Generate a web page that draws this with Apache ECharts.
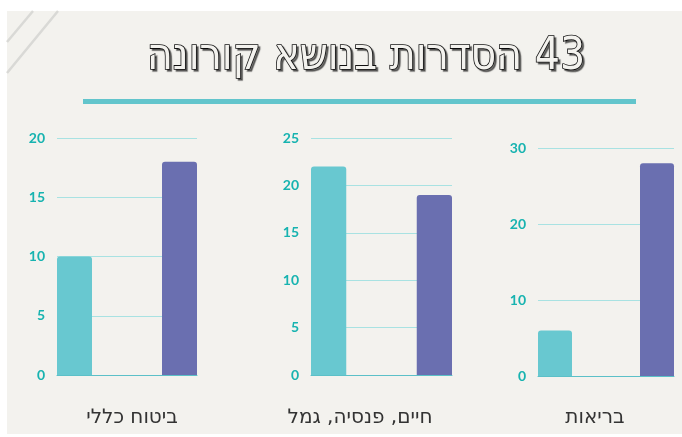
<!DOCTYPE html>
<html>
<head>
<meta charset="utf-8">
<script src="https://cdn.jsdelivr.net/npm/echarts@6/dist/echarts.min.js"></script>
<style>
  html, body { margin: 0; padding: 0; background: #ffffff; }
  #main { width: 682px; height: 437px; }
</style>
</head>
<body>
<div id="main"></div>
<script>
// נתונים
var titleText = '43 הסדרות בנושא קורונה'
var groupNames = ['ביטוח כללי', 'חיים, פנסיה, גמל', 'בריאות']
var slots = ['a', 'b', 'c', 'd']
var tealValues = [10, 22, 6]
var purpleValues = [18, 19, 28]
var axisMax = [20, 25, 30]
var axisStep = [5, 5, 10]

var grids = [
  { left: 57, width: 140, top: 138, bottom: 62 },
  { left: 311, width: 141, top: 138, bottom: 62 },
  { left: 538, width: 136, top: 148, bottom: 61 }
]
var labelPos = [127, 355, 590]

var tealColor = '#68c8d0'
var purpleColor = '#6a6fb0'

var chart = echarts.init(document.getElementById('main'))

var xAxes = []
var yAxes = []
var series = []
var titles = [{
  // RLE ... PDF so the number sits on the right like in RTL text
  text: '\u202B' + titleText + '\u202C',
  left: 361,
  top: 31,
  textAlign: 'center',
  textStyle: {
    fontFamily: 'DejaVu Sans Condensed',
    fontSize: 44,
    fontWeight: 'normal',
    color: '#f3f2ee',
    textBorderColor: '#111111',
    textBorderWidth: 1.6,
    textShadowColor: 'rgba(0,0,0,0.5)',
    textShadowOffsetX: 2,
    textShadowOffsetY: 2,
    textShadowBlur: 1
  }
}]

for (var i = 0; i < 3; i++) {
  xAxes.push({
    type: 'category',
    gridIndex: i,
    data: slots,
    axisLine: { lineStyle: { color: '#5bc0c8', width: 1 } },
    axisTick: { show: false },
    axisLabel: { show: false }
  })
  yAxes.push({
    type: 'value',
    gridIndex: i,
    min: 0,
    max: axisMax[i],
    interval: axisStep[i],
    axisLine: { show: false },
    axisTick: { show: false },
    splitLine: { lineStyle: { color: '#a8e2e2', width: 1 } },
    axisLabel: {
      margin: 12,
      color: '#17b3b0',
      fontFamily: 'Lato',
      fontWeight: 'bold',
      fontSize: 14
    }
  })
  var d = [tealValues[i], '-', '-', '-']
  var p = ['-', '-', '-', purpleValues[i]]
  series.push({
    type: 'bar',
    xAxisIndex: i,
    yAxisIndex: i,
    stack: 's' + i,
    barWidth: '100%',
    itemStyle: { color: tealColor, borderRadius: [3, 3, 0, 0] },
    data: d
  })
  series.push({
    type: 'bar',
    xAxisIndex: i,
    yAxisIndex: i,
    stack: 's' + i,
    barWidth: '100%',
    itemStyle: { color: purpleColor, borderRadius: [3, 3, 0, 0] },
    data: p
  })
  titles.push({
    text: groupNames[i],
    left: labelPos[i],
    top: 403,
    textAlign: 'center',
    textStyle: {
      fontFamily: 'DejaVu Sans',
      fontSize: 20,
      fontWeight: 'normal',
      color: '#333333'
    }
  })
}

var option = {
  animation: false,
  graphic: [
    { type: 'rect', z: -10, shape: { x: 7, y: 11, width: 675, height: 423 }, style: { fill: '#f3f2ee' } },
    { type: 'line', z: -9, shape: { x1: 33, y1: 11, x2: 7, y2: 42 }, style: { stroke: '#d9d9d6', lineWidth: 2.5 } },
    { type: 'line', z: -9, shape: { x1: 58, y1: 11, x2: 7, y2: 73 }, style: { stroke: '#d9d9d6', lineWidth: 2.5 } },
    { type: 'rect', z: -8, shape: { x: 83, y: 99, width: 553, height: 5 }, style: { fill: '#62c5cc' } }
  ],
  title: titles,
  grid: grids,
  xAxis: xAxes,
  yAxis: yAxes,
  series: series
}
chart.setOption(option)
</script>
</body>
</html>
